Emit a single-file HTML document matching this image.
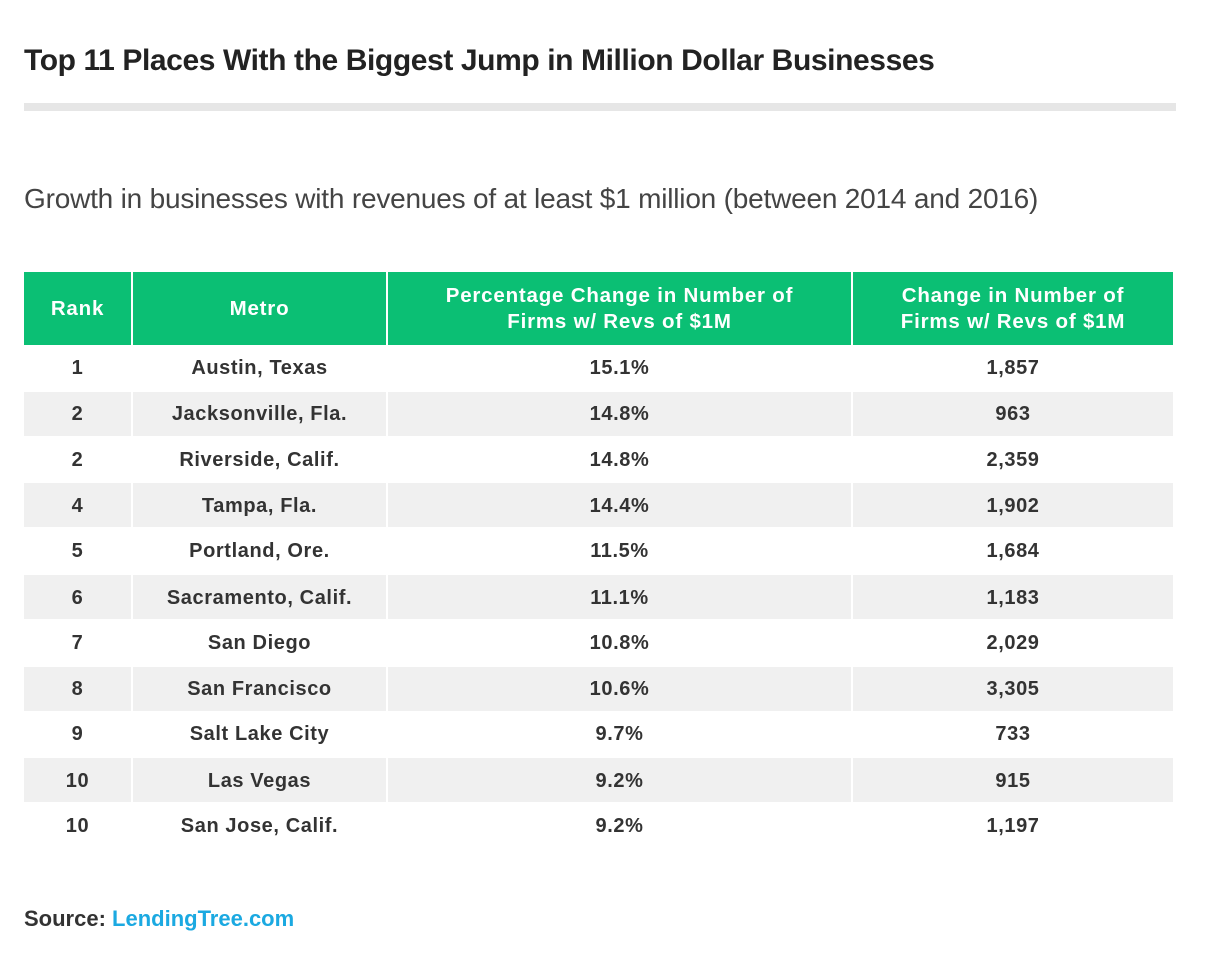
<!DOCTYPE html>
<html><head><meta charset="utf-8"><style>
body{margin:0;width:1205px;height:970px;background:#fff;font-family:"Liberation Sans",Arial,sans-serif;position:relative;overflow:hidden}
.t{position:absolute;left:24px;top:44px;font-size:30px;font-weight:bold;color:#222;letter-spacing:-0.4px}
.bar{position:absolute;left:24px;top:103px;width:1152px;height:8px;background:#e6e6e6}
.sub{position:absolute;left:24px;top:183px;font-size:28px;color:#444;letter-spacing:-0.2px}
.c{position:absolute;display:flex;align-items:center;justify-content:center;text-align:center;font-size:20px;color:#333;font-weight:bold;letter-spacing:0.6px;padding-top:2px;box-sizing:border-box}
.h{background:#0bbf74;color:#fff;font-weight:bold;font-size:20.5px;line-height:26px;letter-spacing:0.8px;padding-top:0}
.g{background:#f0f0f0}
.src{position:absolute;left:24px;top:906px;font-size:22px;font-weight:bold;color:#333}
.src span{color:#1ba9e1}
</style></head><body>
<div class="t">Top 11 Places With the Biggest Jump in Million Dollar Businesses</div>
<div class="bar"></div>
<div class="sub">Growth in businesses with revenues of at least $1 million (between 2014 and 2016)</div>
<div id="tb"></div>
<div class="src">Source: <span>LendingTree.com</span></div>
<script>
var cols=[[24,107],[133,253],[388,463],[853,320]];
var hd=["Rank","Metro","Percentage Change in Number of<br>Firms w/ Revs of $1M","Change in Number of<br>Firms w/ Revs of $1M"];
var rows=[["1","Austin, Texas","15.1%","1,857"],["2","Jacksonville, Fla.","14.8%","963"],["2","Riverside, Calif.","14.8%","2,359"],["4","Tampa, Fla.","14.4%","1,902"],["5","Portland, Ore.","11.5%","1,684"],["6","Sacramento, Calif.","11.1%","1,183"],["7","San Diego","10.8%","2,029"],["8","San Francisco","10.6%","3,305"],["9","Salt Lake City","9.7%","733"],["10","Las Vegas","9.2%","915"],["10","San Jose, Calif.","9.2%","1,197"]];
var h="";
cols.forEach(function(c,j){h+='<div class="c h" style="left:'+c[0]+'px;top:272px;width:'+c[1]+'px;height:73px">'+hd[j]+'</div>';});
rows.forEach(function(r,i){var top=345+45.8*i;var g=i%2==1;
cols.forEach(function(c,j){h+='<div class="c'+(g?' g':'')+'" style="left:'+c[0]+'px;top:'+(top+(g?1:0))+'px;width:'+c[1]+'px;height:'+(g?44:45)+'px">'+r[j]+'</div>';});});
document.getElementById("tb").innerHTML=h;
</script>
</body></html>
